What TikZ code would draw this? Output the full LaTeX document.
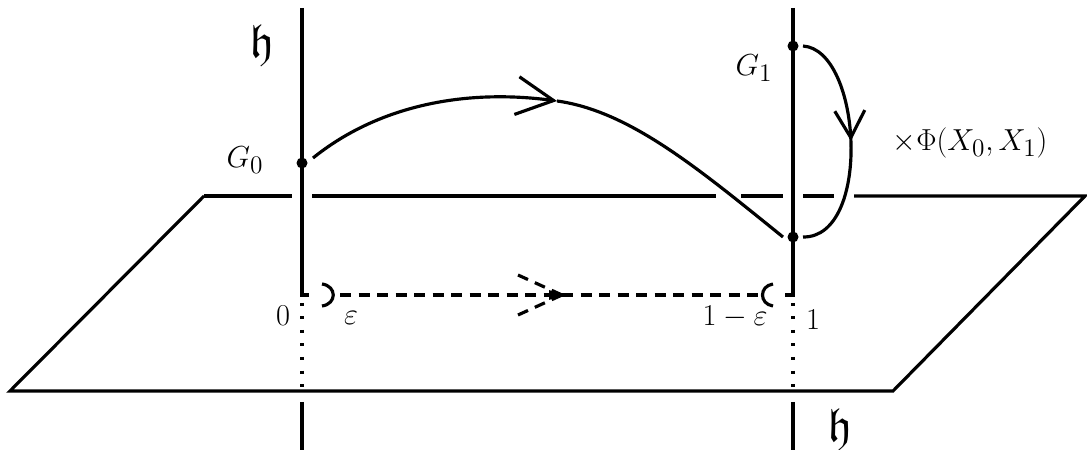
\documentclass[tikz,border=0pt]{standalone}
\usepackage{amsmath,amssymb}
\usetikzlibrary{arrows.meta,decorations.markings}

\begin{document}
\begin{tikzpicture}[
  x=0.2mm, y=-0.2mm,
  line width=1.8pt,
  dot/.style={circle, fill, inner sep=0pt, minimum size=2.2mm},
  lbl/.style={font=\fontsize{19}{23}\selectfont, inner sep=0pt},
  frak/.style={font=\fontsize{27}{30}\selectfont, inner sep=0pt},
  dashline/.style={dash pattern=on 2.2mm off 1.5mm},
  dotline/.style={dash pattern=on 0.6mm off 2.1mm},
  bigtip/.style={-{Straight Barb[length=7.4mm, width=7.6mm]}},
  smallarrow/.style={postaction={decorate}, decoration={markings,
    mark=at position #1 with {\arrow{Straight Barb[length=5.4mm, width=6mm]}}}}
]
  \useasboundingbox[fill=white] (0,0) rectangle (1087,450);

  % plane, back edge broken where things pass in front
  \draw (204,196) -- (10,391) -- (893,391) -- (1085,196) -- (854,196);
  \draw (204,196) -- (292,196);
  \draw (312,196) -- (716,196);
  \draw (741,196) -- (783,196);
  \draw (803,196) -- (834,196);

  % the two lines over 0 and 1
  \draw (302,8) -- (302,295) -- (309,295);
  \draw (793,8) -- (793,295) -- (785,295);
  \draw[dotline] (302,303) -- (302,390);
  \draw[dotline] (793,303) -- (793,390);
  \draw (302,402) -- (302,450);
  \draw (793,402) -- (793,450);

  \node[dot] (gzero) at (302,163) {};
  \node[dot] (gone) at (793,46) {};
  \node[dot] (gend) at (793,237) {};

  % lifted path, arrow halfway
  \coordinate (tip) at (557,101);
  \draw[bigtip] ([xshift=2.2mm,yshift=1mm]gzero.center)
    .. controls (375,108) and (460,88) .. (tip);
  \draw (tip) .. controls (630,111) and (700,170) .. ([xshift=-2mm]gend.center);
  \draw[smallarrow=0.49] ([xshift=2mm]gone.center)
    .. controls (862,50) and (872,238) .. ([xshift=2mm]gend.center);

  % path in the parameter interval
  \coordinate (mid) at (562,295);
  \draw[dashline] (340,295) -- (758,295);
  \draw (322,284) .. controls (337,286) and (337,304) .. (322,306);
  \draw (773,284) .. controls (759,286) and (759,304) .. (773,306);
  \draw[dashline] (mid) ++(-44,-20) -- (mid);
  \draw[dashline] (mid) ++(-44,20) -- (mid);
  \fill (mid) -- ++(-13,-5) -- ++(0,10) -- cycle;

  % labels
  \node[frak] (htop) at (262,46) {$\mathfrak{h}$};
  \node[lbl] (lgzero) at (245,160) {$G_0$};
  \node[lbl] (lgone) at (754,68) {$G_1$};
  \node[lbl] (lphi) at (970,143) {$\times\Phi(X_0,X_1)$};
  \node[lbl] (lzero) at (283,316) {$0$};
  \node[lbl] (leps) at (351,318) {$\varepsilon$};
  \node[lbl] (loneeps) at (735,317) {$1-\varepsilon$};
  \node[lbl] (lone) at (813,320) {$1$};
  \node[frak] (hbot) at (840,430) {$\mathfrak{h}$};
\end{tikzpicture}
\end{document}
